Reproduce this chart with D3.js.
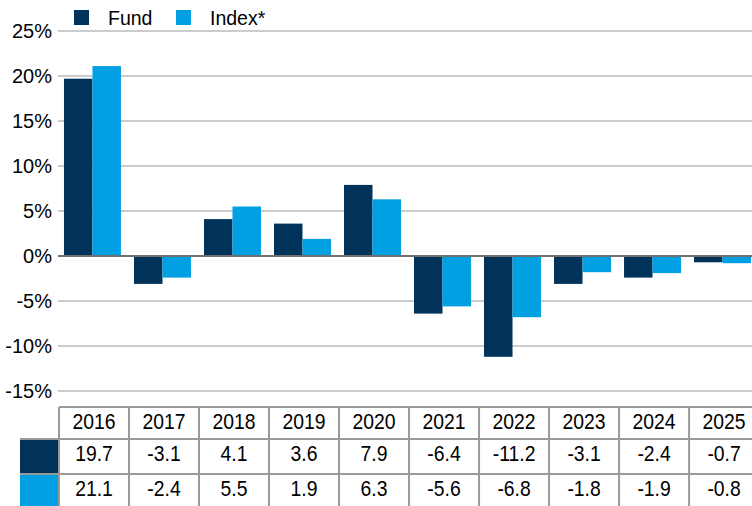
<!DOCTYPE html>
<html>
<head>
<meta charset="utf-8">
<script src="https://cdn.jsdelivr.net/npm/d3@7/dist/d3.min.js"></script>
<style>
  html, body { margin: 0; padding: 0; background: #fff; }
  svg { display: block; font-family: "Liberation Sans", Arial, sans-serif; }
</style>
</head>
<body>
<div id="chart"></div>
<script>
// data
const years = ['2016', '2017', '2018', '2019', '2020', '2021', '2022', '2023', '2024', '2025'];
const fund = [19.7, -3.1, 4.1, 3.6, 7.9, -6.4, -11.2, -3.1, -2.4, -0.7];
const index = [21.1, -2.4, 5.5, 1.9, 6.3, -5.6, -6.8, -1.8, -1.9, -0.8];
const seriesNames = ['Fund', 'Index*'];
const yTicks = [25, 20, 15, 10, 5, 0, -5, -10, -15];

const colors = ['#00325a', '#00a0e2'];
const w = 752, h = 506;

const svg = d3.select('#chart').append('svg')
  .attr('width', w)
  .attr('height', h);

// scales - plot runs a bit past the right edge (the source is cropped)
const x = d3.scaleBand()
  .domain(years)
  .range([59, 756])
  .paddingInner(0.186)
  .paddingOuter(0.071);

const xs = d3.scaleBand()
  .domain([0, 1])
  .range([0, x.bandwidth()]);

const y = d3.scaleLinear()
  .domain([-15, 25])
  .range([391, 31]);

// gridlines
svg.append('g')
  .selectAll('line')
  .data(yTicks.filter(d => d !== 0))
  .join('line')
  .attr('x1', 58).attr('x2', w)
  .attr('y1', d => y(d)).attr('y2', d => y(d))
  .attr('stroke', '#cccccc')
  .attr('stroke-width', 2);

// y labels
svg.append('g')
  .selectAll('text')
  .data(yTicks)
  .join('text')
  .attr('x', 52)
  .attr('y', d => y(d))
  .attr('dy', '0.35em')
  .attr('text-anchor', 'end')
  .attr('font-size', 20)
  .attr('fill', '#000')
  .text(d => d + '%');

// bars
const series = [fund, index];
series.forEach(function (vals, s) {
  svg.append('g')
    .selectAll('rect')
    .data(vals)
    .join('rect')
    .attr('x', (d, i) => x(years[i]) + xs(s))
    .attr('width', xs.bandwidth())
    .attr('y', d => y(Math.max(0, d)))
    .attr('height', d => Math.abs(y(d) - y(0)))
    .attr('fill', colors[s]);
});

// zero line
svg.append('line')
  .attr('x1', 58).attr('x2', w)
  .attr('y1', y(0)).attr('y2', y(0))
  .attr('stroke', '#707070')
  .attr('stroke-width', 2);

// legend
const legendX = [74, 176];
seriesNames.forEach(function (name, s) {
  svg.append('rect')
    .attr('x', legendX[s]).attr('y', 10)
    .attr('width', 15).attr('height', 15)
    .attr('fill', colors[s]);
  svg.append('text')
    .attr('x', legendX[s] + 34)
    .attr('y', 25)
    .attr('font-size', 19.5)
    .attr('fill', '#000')
    .text(name);
});

// data table under the chart
const rowTop = [407, 439, 474];
const rowBottom = [439, 474, 510];
const step = x.step();
const colLeft = d => x(d) - x.paddingOuter() * step;
const table = svg.append('g');

// colour keys in the first column
series.forEach(function (vals, s) {
  table.append('rect')
    .attr('x', 20).attr('y', rowTop[s + 1])
    .attr('width', 39).attr('height', rowBottom[s + 1] - rowTop[s + 1])
    .attr('fill', colors[s]);
});

// horizontal rules
rowTop.forEach(function (ty, r) {
  table.append('line')
    .attr('x1', r === 0 ? 59 : 20).attr('x2', w)
    .attr('y1', ty).attr('y2', ty)
    .attr('stroke', '#999999')
    .attr('stroke-width', 2);
});

// vertical rules
table.selectAll('line.v')
  .data(years)
  .join('line')
  .attr('class', 'v')
  .attr('x1', d => colLeft(d)).attr('x2', d => colLeft(d))
  .attr('y1', 407).attr('y2', h)
  .attr('stroke', '#999999')
  .attr('stroke-width', 2);

const rows = [years, fund.map(d => d.toFixed(1)), index.map(d => d.toFixed(1))];
rows.forEach(function (row, r) {
  table.append('g')
    .selectAll('text')
    .data(row)
    .join('text')
    .attr('transform', (d, i) => 'translate(' + (colLeft(years[i]) + step / 2) + ',' + (rowTop[r] + 22) + ') scale(0.88,1)')
    .attr('text-anchor', 'middle')
    .attr('font-size', 22)
    .attr('fill', '#000')
    .text(d => d);
});
</script>
</body>
</html>
